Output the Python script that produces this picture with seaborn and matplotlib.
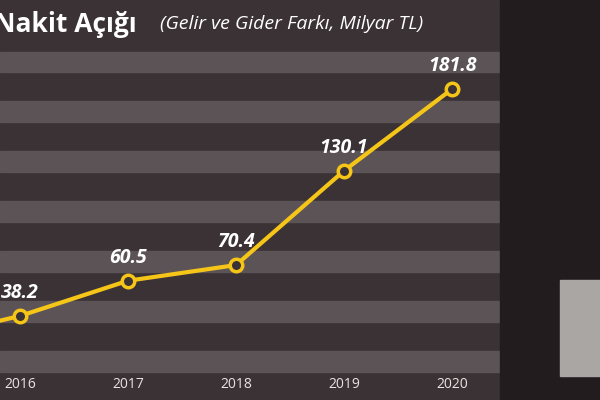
import matplotlib
matplotlib.use("Agg")
import matplotlib.pyplot as plt
import seaborn as sns
import pandas as pd

years = [2015, 2016, 2017, 2018, 2019, 2020]
values = [22.0, 38.2, 60.5, 70.4, 130.1, 181.8]
labels = ["", "38.2", "60.5", "70.4", "130.1", "181.8"]
tick_years = [2016, 2017, 2018, 2019, 2020]

df = pd.DataFrame({"Yil": years, "Acik": values})

sns.set_theme(style="dark")
plt.rcParams['font.family'] = ['Open Sans', 'DejaVu Sans']

fig = plt.figure(figsize=(6, 4), dpi=100)
fig.patch.set_facecolor("#3b3236")
ax = fig.add_axes([0, 0, 1, 1])
ax.set_facecolor("#3b3236")
ax.set_xlim(2015.815, 2021.37)
ax.set_ylim(-15.0, 238.2)

# horizontal bands
for lo in [3, 34.6, 66.2, 97.8, 129.4, 161, 192.6]:
    ax.axhspan(lo, lo + 13, xmin=0, xmax=0.833, color="#5c5357", zorder=0)
# right photo area
ax.axvspan(2020.44, 2021.37, color="#221c1e", zorder=0.5)
ax.axvspan(2021.0, 2021.37, ymin=0.06, ymax=0.3, color="#a9a6a4", zorder=0.6)

sns.lineplot(data=df, x="Yil", y="Acik", ax=ax, color="#f5c518", lw=3,
             marker="o", markersize=9, markerfacecolor="#3b3236",
             markeredgecolor="#f5c518", markeredgewidth=2.5, zorder=3)

for x, y, t in zip(years, values, labels):
    ax.text(x, y + 8, t, color="white", fontsize=14, fontweight="bold",
            fontstyle="italic", ha="center", va="bottom")

for yr in tick_years:
    ax.text(yr, -5.5, str(yr), color="#e8e4e2", fontsize=10, ha="center", va="center")

ax.text(2015.76, 223, "Nakit Açığı", color="white", fontsize=19,
        fontweight="bold", ha="left", va="center")
ax.text(2017.3, 223, "(Gelir ve Gider Farkı, Milyar TL)", color="white",
        fontsize=14, fontstyle="italic", ha="left", va="center")

ax.set_xticks([])
ax.set_yticks([])
ax.set_xlabel("")
ax.set_ylabel("")
for s in ax.spines.values():
    s.set_visible(False)

fig.savefig("out.png", dpi=100)
